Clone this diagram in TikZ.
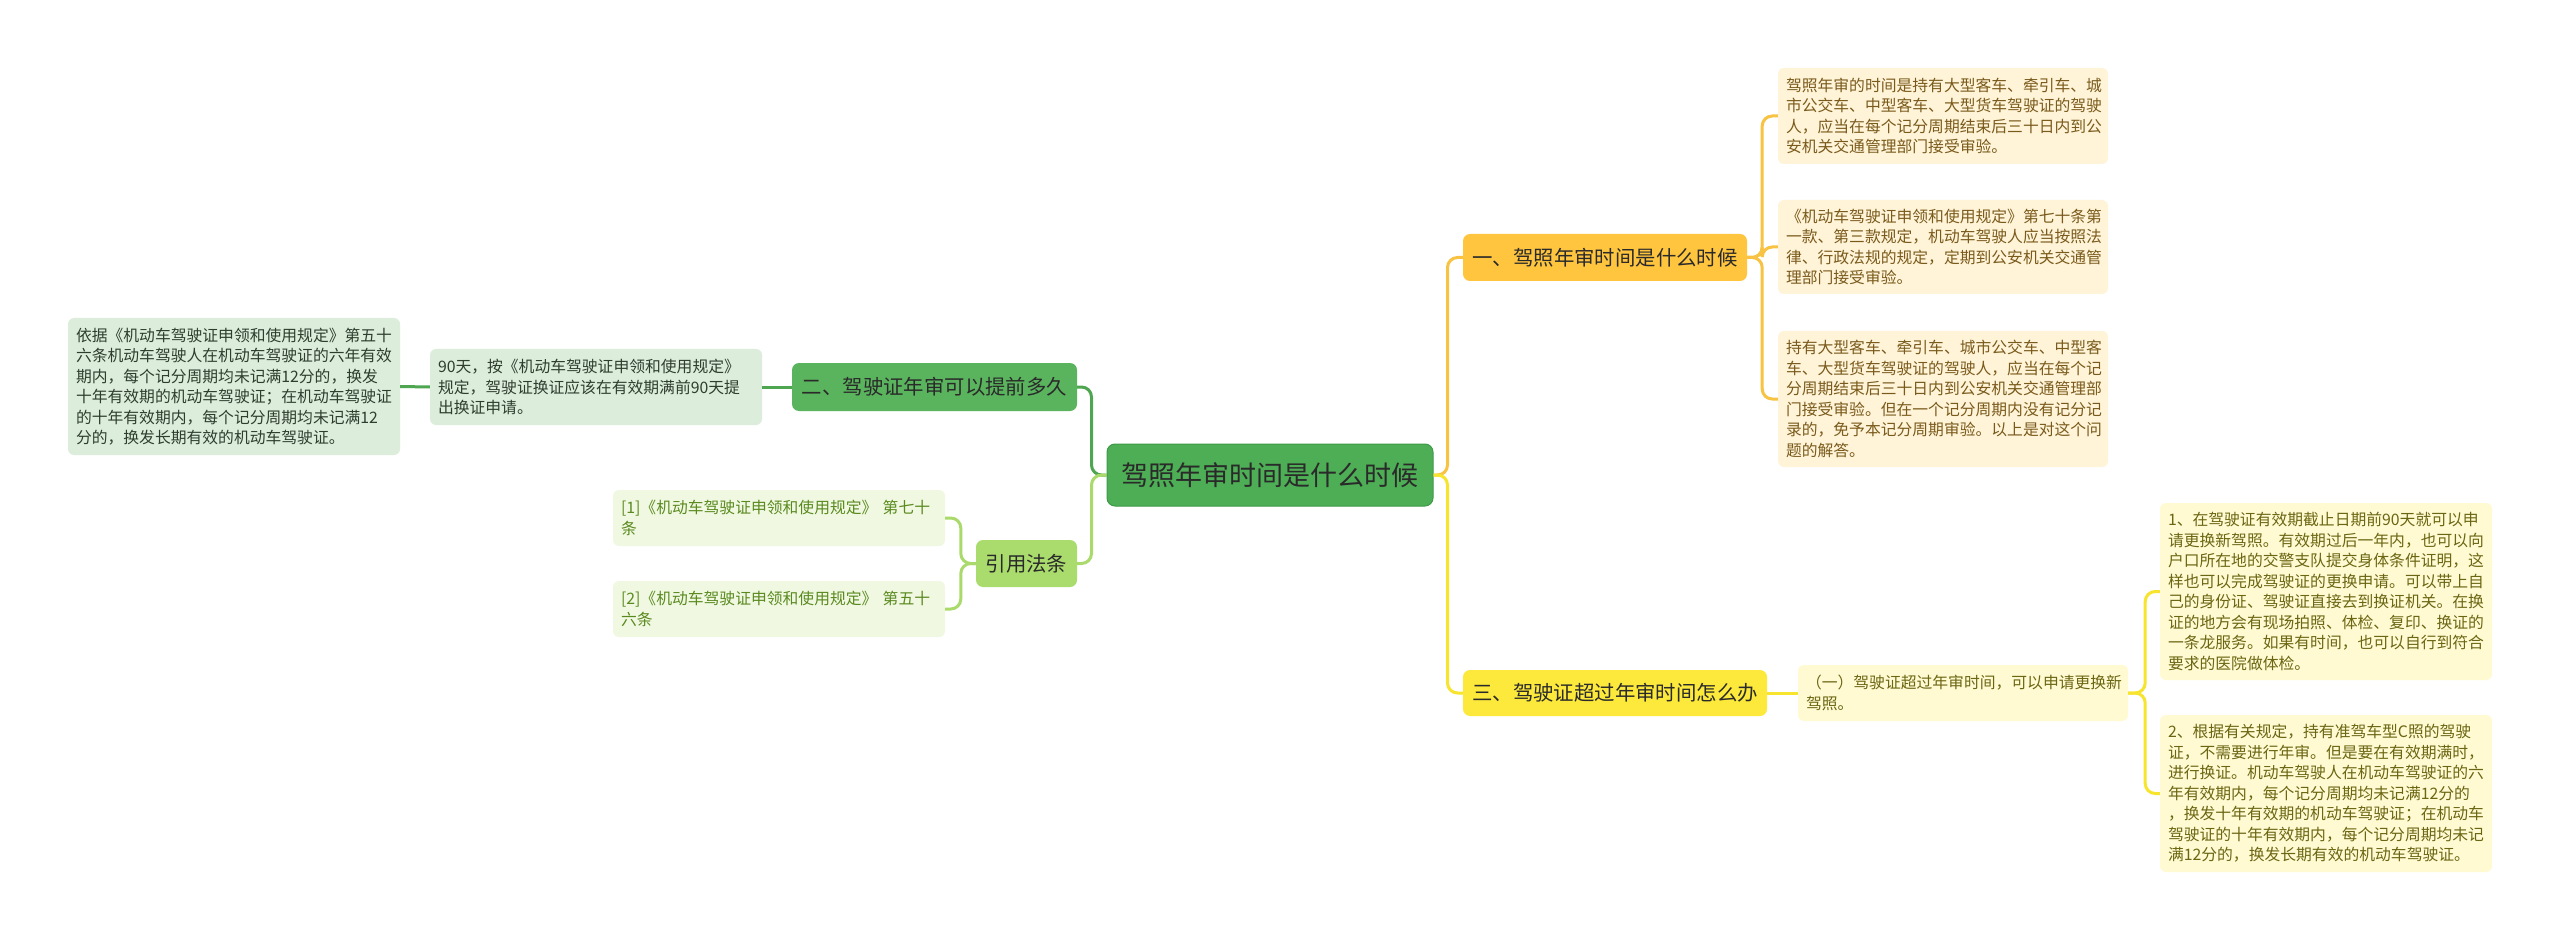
\documentclass[tikz,border=0pt]{standalone}
\usepackage{fontspec}
\setmainfont{Noto Sans CJK SC}
\definecolor{ctrfill}{HTML}{4DAE55}
\definecolor{ctrdraw}{HTML}{3F9A47}
\definecolor{b2fill}{HTML}{5AB45E}
\definecolor{b4fill}{HTML}{A9DC6C}
\definecolor{b1fill}{HTML}{FFC53F}
\definecolor{b3fill}{HTML}{FCE93C}
\definecolor{ofill}{HTML}{FFF4D8}
\definecolor{otext}{HTML}{7A5A1C}
\definecolor{yfill}{HTML}{FFFAD2}
\definecolor{ytext}{HTML}{6B6612}
\definecolor{gfill}{HTML}{DCEEDB}
\definecolor{gtext}{HTML}{2F3D2F}
\definecolor{lfill}{HTML}{F0F8E2}
\definecolor{ltext}{HTML}{5A8A1E}
\definecolor{cdark}{HTML}{4FA650}
\definecolor{clight}{HTML}{A9DA6B}
\definecolor{corange}{HTML}{F8C242}
\definecolor{cyellow}{HTML}{F7E42E}
\definecolor{darktext}{HTML}{2A2A2A}
\tikzset{
  conn/.style={line width=3pt, rounded corners=10pt},
  branch/.style={rounded corners=7pt, inner sep=0pt, text=darktext, font=\fontsize{20.4}{24}\selectfont},
  leaf/.style={rounded corners=6pt, inner xsep=8pt, inner ysep=0pt, align=left, font=\fontsize{15.8}{20.5}\selectfont},
}
\begin{document}
\begin{tikzpicture}[x=1pt,y=-1pt]
\useasboundingbox (0,0) rectangle (2560,941);
\fill[white] (0,0) rectangle (2560,941);
% central
\node[rounded corners=8pt, fill=ctrfill, draw=ctrdraw, line width=1pt, minimum width=326pt, minimum height=62pt, inner sep=0pt, text=darktext, font=\fontsize{27}{32}\selectfont] (ctr) at (1270,475) {驾照年审时间是什么时候};
% branches
\node[branch, fill=b1fill, minimum width=284pt, minimum height=47pt] (b1) at (1605,257.5) {一、驾照年审时间是什么时候};
\node[branch, fill=b3fill, minimum width=304pt, minimum height=46pt] (b3) at (1615,693) {三、驾驶证超过年审时间怎么办};
\node[branch, fill=b2fill, minimum width=285pt, minimum height=48pt] (b2) at (934.5,387) {二、驾驶证年审可以提前多久};
\node[branch, fill=b4fill, minimum width=101pt, minimum height=47pt] (b4) at (1026.5,563.5) {引用法条};
% right orange leaves
\node[leaf, fill=ofill, text=otext, text width=314pt, minimum height=96pt] (r1) at (1943,116) {驾照年审的时间是持有大型客车、牵引车、城\\市公交车、中型客车、大型货车驾驶证的驾驶\\人，应当在每个记分周期结束后三十日内到公\\安机关交通管理部门接受审验。};
\node[leaf, fill=ofill, text=otext, text width=314pt, minimum height=94pt] (r2) at (1943,247) {《机动车驾驶证申领和使用规定》第七十条第\\一款、第三款规定，机动车驾驶人应当按照法\\律、行政法规的规定，定期到公安机关交通管\\理部门接受审验。};
\node[leaf, fill=ofill, text=otext, text width=314pt, minimum height=136pt] (r3) at (1943,399) {持有大型客车、牵引车、城市公交车、中型客\\车、大型货车驾驶证的驾驶人，应当在每个记\\分周期结束后三十日内到公安机关交通管理部\\门接受审验。但在一个记分周期内没有记分记\\录的，免予本记分周期审验。以上是对这个问\\题的解答。};
% yellow leaves
\node[leaf, fill=yfill, text=ytext, text width=314pt, minimum height=56pt] (y0) at (1963,693) {（一）驾驶证超过年审时间，可以申请更换新\\驾照。};
\node[leaf, fill=yfill, text=ytext, text width=316pt, minimum height=177pt] (ya) at (2326,591.5) {1、在驾驶证有效期截止日期前90天就可以申\\请更换新驾照。有效期过后一年内，也可以向\\户口所在地的交警支队提交身体条件证明，这\\样也可以完成驾驶证的更换申请。可以带上自\\己的身份证、驾驶证直接去到换证机关。在换\\证的地方会有现场拍照、体检、复印、换证的\\一条龙服务。如果有时间，也可以自行到符合\\要求的医院做体检。};
\node[leaf, fill=yfill, text=ytext, text width=316pt, minimum height=157pt] (yb) at (2326,793.5) {2、根据有关规定，持有准驾车型C照的驾驶\\证，不需要进行年审。但是要在有效期满时，\\进行换证。机动车驾驶人在机动车驾驶证的六\\年有效期内，每个记分周期均未记满12分的\\，换发十年有效期的机动车驾驶证；在机动车\\驾驶证的十年有效期内，每个记分周期均未记\\满12分的，换发长期有效的机动车驾驶证。};
% green leaves
\node[leaf, fill=gfill, text=gtext, text width=316pt, minimum height=76pt] (l90) at (596,387) {90天，按《机动车驾驶证申领和使用规定》\\规定，驾驶证换证应该在有效期满前90天提\\出换证申请。};
\node[leaf, fill=gfill, text=gtext, text width=316pt, minimum height=137pt] (ll) at (234,386.5) {依据《机动车驾驶证申领和使用规定》第五十\\六条机动车驾驶人在机动车驾驶证的六年有效\\期内，每个记分周期均未记满12分的，换发\\十年有效期的机动车驾驶证；在机动车驾驶证\\的十年有效期内，每个记分周期均未记满12\\分的，换发长期有效的机动车驾驶证。};
% citation leaves
\node[leaf, fill=lfill, text=ltext, text width=316pt, minimum height=56pt] (c1) at (779,518) {[1]《机动车驾驶证申领和使用规定》 第七十\\条};
\node[leaf, fill=lfill, text=ltext, text width=316pt, minimum height=56pt] (c2) at (779,609) {[2]《机动车驾驶证申领和使用规定》 第五十\\六条};
% connectors
\draw[conn, cdark] (ctr.west) -- ++(-15,0) |- (b2.east);
\draw[conn, clight] (ctr.west) -- ++(-15,0) |- (b4.east);
\draw[conn, corange] (ctr.east) -- ++(14,0) |- (b1.west);
\draw[conn, cyellow] (ctr.east) -- ++(14,0) |- (b3.west);
\draw[conn, corange] (b1.east) -- ++(15,0) |- (r1.west);
\draw[conn, corange] (b1.east) -- ++(15,0) |- (r2.west);
\draw[conn, corange] (b1.east) -- ++(15,0) |- (r3.west);
\draw[conn, cyellow] (b3.east) -- (y0.west);
\draw[conn, cyellow] (y0.east) -- ++(17,0) |- (ya.west);
\draw[conn, cyellow] (y0.east) -- ++(17,0) |- (yb.west);
\draw[conn, cdark] (b2.west) -- (l90.east);
\draw[conn, cdark] (l90.west) -- (ll.east);
\draw[conn, clight] (b4.west) -- ++(-15,0) |- (c1.east);
\draw[conn, clight] (b4.west) -- ++(-15,0) |- (c2.east);
\end{tikzpicture}
\end{document}
